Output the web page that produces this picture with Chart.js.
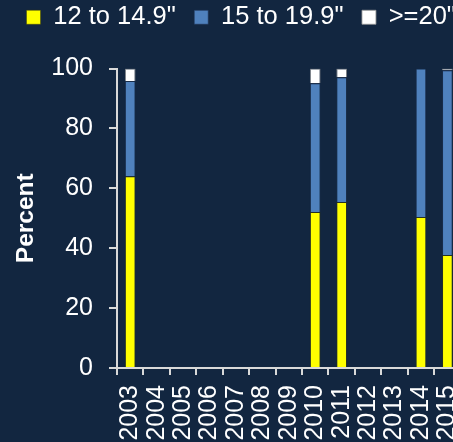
<!DOCTYPE html>
<html>
<head>
<meta charset="utf-8">
<script src="https://cdn.jsdelivr.net/npm/chart.js@4/dist/chart.umd.min.js"></script>
<style>
  html, body { margin: 0; padding: 0; background: #122640; overflow: hidden; width: 453px; height: 442px; }
  #wrap { position: absolute; left: 0; top: 0; width: 488px; height: 460px; }
</style>
</head>
<body>
<div id="wrap"><canvas id="c" width="488" height="460"></canvas></div>
<script>
const categories = ["2003","2004","2005","2006","2007","2008","2009","2010","2011","2012","2013","2014","2015"];
const seriesNames = ['12 to 14.9"', '15 to 19.9"', '>=20"'];
const size12to149 = [64.0, null, null, null, null, null, null, 52.1, 55.4, null, null, 50.4, 37.7];
const size15to199 = [31.8, null, null, null, null, null, null, 43.0, 41.7, null, null, 49.6, 61.7];
const size20plus  = [4.2,  null, null, null, null, null, null, 4.9,  2.9,  null, null, 0.0,  0.6];
const yTicks = [0, 20, 40, 60, 80, 100];

const axisColor = '#D9D9D9';
const legendSpacer = {
  id: 'legendSpacer',
  beforeInit(chart) {
    if (!chart.legend) return;
    const origFit = chart.legend.fit;
    chart.legend.fit = function () {
      const mw = this.maxWidth;
      this.maxWidth = 1000;
      origFit.call(this);
      this.maxWidth = mw;
      this.width = mw;
      this.height += 28.5;
    };
    const origDraw = chart.legend.draw;
    chart.legend.draw = function () {
      const r = this.right;
      this.right = r + 200;
      origDraw.call(this);
      this.right = r;
    };
  }
};

new Chart(document.getElementById('c'), {
  type: 'bar',
  data: {
    labels: categories,
    datasets: [
      { label: seriesNames[0], data: size12to149, backgroundColor: '#FFFF00', borderColor: 'rgba(60,60,0,0.45)', borderWidth: 1 },
      { label: seriesNames[1], data: size15to199, backgroundColor: '#4F81BD', borderColor: 'rgba(30,50,80,0.6)', borderWidth: 1 },
      { label: seriesNames[2], data: size20plus, backgroundColor: '#FFFFFF', borderColor: 'rgba(150,150,150,0.8)', borderWidth: 1 }
    ]
  },
  options: {
    responsive: false,
    animation: false,
    devicePixelRatio: 1,
    layout: { padding: { left: 8, top: -14, right: 16, bottom: 0 } },
    datasets: { bar: { categoryPercentage: 1.0, barPercentage: 0.405 } },
    plugins: {
      legend: {
        position: 'top',
        align: 'start',
        labels: {
          boxWidth: 14, boxHeight: 14, padding: 18.5,
          color: '#FFFFFF',
          font: { family: 'Liberation Sans, Arial, sans-serif', size: 25.5 }
        }
      },
      tooltip: { enabled: false }
    },
    scales: {
      x: {
        stacked: true,
        offset: true,
        grid: { drawOnChartArea: false, drawTicks: true, tickLength: 7, color: axisColor, lineWidth: 2 },
        border: { display: true, color: axisColor, width: 2 },
        ticks: {
          autoSkip: false, minRotation: 90, maxRotation: 90, padding: 10,
          color: '#FFFFFF',
          font: { family: 'Liberation Sans, Arial, sans-serif', size: 25 }
        },
        afterFit(scale) { scale.height = 92; }
      },
      y: {
        stacked: true,
        min: yTicks[0], max: yTicks[yTicks.length - 1],
        afterBuildTicks(scale) { scale.ticks = yTicks.map(v => ({ value: v })); },
        grid: { drawOnChartArea: false, drawTicks: true, tickLength: 8, color: axisColor, lineWidth: 2 },
        border: { display: true, color: axisColor, width: 2 },
        ticks: {
          padding: 16,
          color: '#FFFFFF',
          font: { family: 'Liberation Sans, Arial, sans-serif', size: 25 }
        },
        title: {
          display: true, text: 'Percent', color: '#FFFFFF',
          font: { family: 'Liberation Sans, Arial, sans-serif', size: 24.5, weight: 'bold' },
          padding: { top: 4, bottom: 0 }
        },
        afterFit(scale) { scale.width = 109; }
      }
    }
  },
  plugins: [legendSpacer]
});
</script>
</body>
</html>
